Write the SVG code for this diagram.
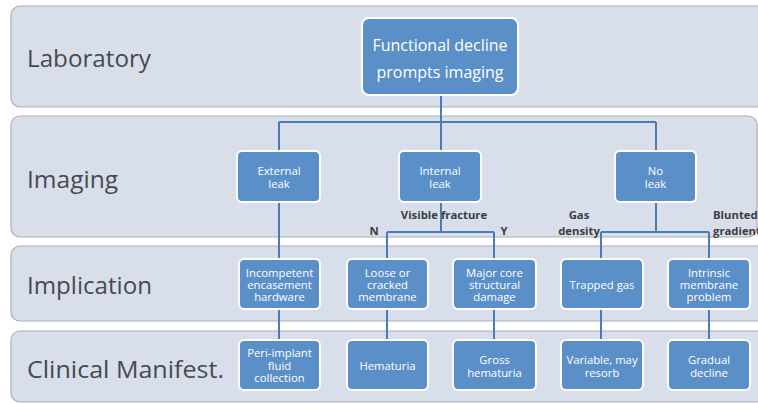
<svg xmlns="http://www.w3.org/2000/svg" width="758" height="403" viewBox="0 0 758 403">
<style>
.band{fill:#d9dfea;stroke:#a9aeb8;stroke-width:1.2}
.bl{font-family:"Open Sans","Noto Sans",sans-serif;font-size:24px;fill:#474a50}
.nd{fill:#5b8fc8;stroke:#ffffff;stroke-width:2}
.nt{font-family:"Open Sans","Noto Sans",sans-serif;font-size:11.3px;fill:#ffffff;text-anchor:middle}
.big{font-size:16px}
.cn{fill:none;stroke:#4a7db6;stroke-width:2}
.lb{font-family:"Open Sans","Noto Sans",sans-serif;font-size:11.3px;font-weight:bold;fill:#3a3d42}
</style>
<rect width="758" height="403" fill="#ffffff"/>
<g id="bands">
<rect class="band" x="11" y="6" width="760" height="101" rx="9"/>
<rect class="band" x="11" y="116" width="746" height="121" rx="9"/>
<rect class="band" x="11" y="246" width="760" height="75" rx="9"/>
<rect class="band" x="11" y="331" width="760" height="71" rx="9"/>
<text class="bl" x="27" y="67" textLength="124" lengthAdjust="spacingAndGlyphs">Laboratory</text>
<text class="bl" x="27" y="188" textLength="91" lengthAdjust="spacingAndGlyphs">Imaging</text>
<text class="bl" x="27" y="294" textLength="125" lengthAdjust="spacingAndGlyphs">Implication</text>
<text class="bl" x="27" y="378" textLength="197" lengthAdjust="spacingAndGlyphs">Clinical Manifest.</text>
</g>
<g id="connectors">
<path class="cn" d="M441 95V122M279 122H656M279 122V151M441 122V151M656 122V151"/>
<path class="cn" d="M279 202V259M279 309V340"/>
<path class="cn" d="M441 202V232M387 232H494M387 232V259M494 232V259"/>
<path class="cn" d="M656 202V232M601 232H709M601 232V259M709 232V259"/>
<path class="cn" d="M387 309V340M494 309V340M601 309V340M709 309V340"/>
</g>
<g id="labels">
<text class="lb" x="444" y="219" text-anchor="middle">Visible fracture</text>
<text class="lb" x="374" y="235" text-anchor="middle">N</text>
<text class="lb" x="504" y="235" text-anchor="middle">Y</text>
<text class="lb" x="579" y="219" text-anchor="middle">Gas</text>
<text class="lb" x="579" y="235" text-anchor="middle">density</text>
<text class="lb" x="713" y="219">Blunted</text>
<text class="lb" x="713" y="235">gradient</text>
</g>
<g id="n_functional">
<rect class="nd" x="362" y="18" width="156" height="77" rx="7"/>
<text class="nt big" x="440" y="51">Functional decline</text>
<text class="nt big" x="440" y="78">prompts imaging</text>
</g>
<g id="n_external">
<rect class="nd" x="237" y="151" width="83" height="51" rx="5"/>
<text class="nt" x="279" y="175">External</text>
<text class="nt" x="279" y="188">leak</text>
</g>
<g id="n_internal">
<rect class="nd" x="399" y="151" width="82" height="51" rx="5"/>
<text class="nt" x="440" y="175">Internal</text>
<text class="nt" x="440" y="188">leak</text>
</g>
<g id="n_noleak">
<rect class="nd" x="615" y="151" width="81" height="51" rx="5"/>
<text class="nt" x="655.5" y="175">No</text>
<text class="nt" x="655.5" y="188">leak</text>
</g>
<g id="n_incompetent">
<rect class="nd" x="239" y="259" width="81" height="50" rx="5"/>
<text class="nt" x="279.5" y="277">Incompetent</text>
<text class="nt" x="279.5" y="289">encasement</text>
<text class="nt" x="279.5" y="301">hardware</text>
</g>
<g id="n_loose">
<rect class="nd" x="347" y="259" width="81" height="50" rx="5"/>
<text class="nt" x="387.5" y="277">Loose or</text>
<text class="nt" x="387.5" y="289">cracked</text>
<text class="nt" x="387.5" y="301">membrane</text>
</g>
<g id="n_major">
<rect class="nd" x="453" y="259" width="83" height="50" rx="5"/>
<text class="nt" x="494.5" y="277">Major core</text>
<text class="nt" x="494.5" y="289">structural</text>
<text class="nt" x="494.5" y="301">damage</text>
</g>
<g id="n_trapped">
<rect class="nd" x="561" y="259" width="82" height="50" rx="5"/>
<text class="nt" x="602" y="289">Trapped gas</text>
</g>
<g id="n_intrinsic">
<rect class="nd" x="668" y="259" width="82" height="50" rx="5"/>
<text class="nt" x="709" y="277">Intrinsic</text>
<text class="nt" x="709" y="289">membrane</text>
<text class="nt" x="709" y="301">problem</text>
</g>
<g id="n_peri">
<rect class="nd" x="239" y="340" width="81" height="50" rx="5"/>
<text class="nt" x="279.5" y="357">Peri-implant</text>
<text class="nt" x="279.5" y="370">fluid</text>
<text class="nt" x="279.5" y="382">collection</text>
</g>
<g id="n_hematuria">
<rect class="nd" x="347" y="340" width="81" height="50" rx="5"/>
<text class="nt" x="387.5" y="370">Hematuria</text>
</g>
<g id="n_gross">
<rect class="nd" x="453" y="340" width="83" height="50" rx="5"/>
<text class="nt" x="494.5" y="364">Gross</text>
<text class="nt" x="494.5" y="377">hematuria</text>
</g>
<g id="n_variable">
<rect class="nd" x="561" y="340" width="82" height="50" rx="5"/>
<text class="nt" x="602" y="364">Variable, may</text>
<text class="nt" x="602" y="377">resorb</text>
</g>
<g id="n_gradual">
<rect class="nd" x="668" y="340" width="82" height="50" rx="5"/>
<text class="nt" x="709" y="364">Gradual</text>
<text class="nt" x="709" y="377">decline</text>
</g>
</svg>
